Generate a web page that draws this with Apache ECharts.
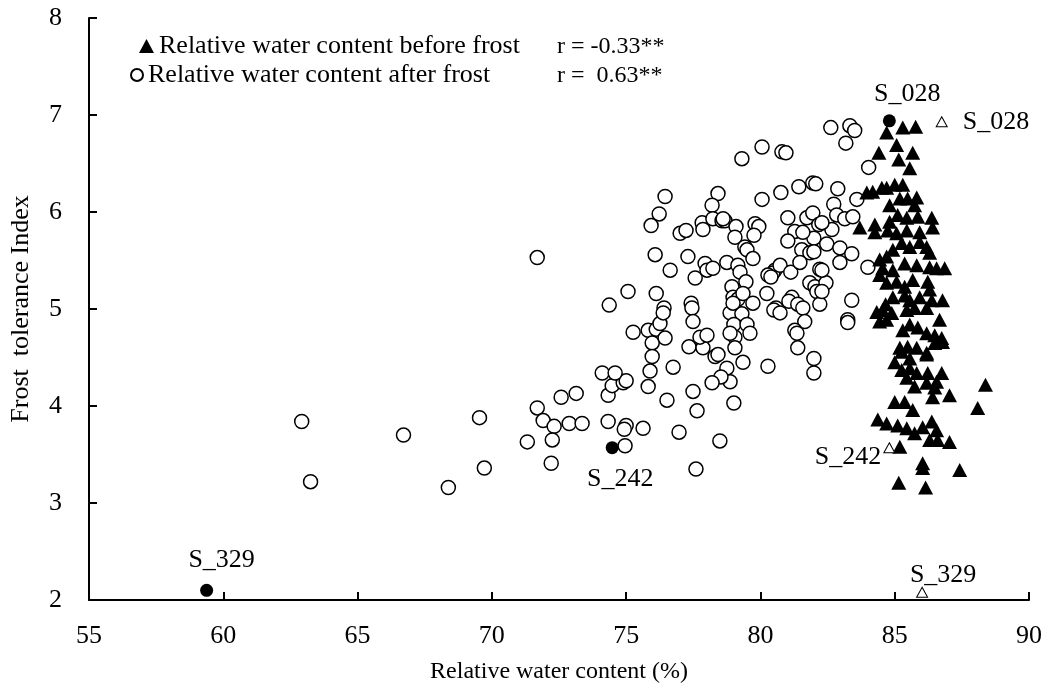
<!DOCTYPE html>
<html>
<head>
<meta charset="utf-8">
<script src="https://cdn.jsdelivr.net/npm/echarts@6/dist/echarts.min.js"></script>
<style>
  html, body { margin: 0; padding: 0; background: #fff; }
  #chart { width: 1049px; height: 693px; }
</style>
</head>
<body>
<div id="chart"></div>
<script>
// Axis settings
const xTicks = [55, 60, 65, 70, 75, 80, 85, 90];
const yTicks = [2, 3, 4, 5, 6, 7, 8];

// Relative water content before frost (%), frost tolerance index
const beforeRWC = [
  84.70, 85.30, 85.78, 85.07, 84.41, 85.67, 85.15, 85.56, 84.18, 84.52,
  84.70, 85.00, 85.30, 84.81, 85.19, 85.48, 85.82, 85.74, 83.70, 84.26,
  84.81, 85.11, 85.45, 85.86, 86.38, 86.41, 84.26, 84.74, 85.07, 85.45,
  85.93, 84.44, 84.70, 84.93, 85.26, 85.56, 85.93, 86.19, 86.30, 84.55,
  84.93, 85.37, 85.82, 86.30, 86.56, 86.86, 84.70, 85.07, 85.37, 85.67,
  86.23, 86.30, 84.93, 85.37, 85.56, 85.93, 86.38, 86.78, 84.33, 84.55,
  84.89, 85.45, 85.74, 86.19, 84.44, 84.70, 85.30, 85.56, 85.86, 86.19,
  86.49, 86.67, 86.75, 85.19, 85.48, 85.82, 86.19, 86.49, 86.78, 85.26,
  85.56, 86.19, 85.26, 85.56, 85.82, 86.23, 86.75, 86.56, 85.45, 85.74,
  86.19, 86.49, 87.04, 86.41, 88.38, 88.09, 85.00, 85.37, 85.67, 84.37,
  84.70, 85.11, 85.45, 85.74, 86.04, 86.38, 86.56, 86.30, 86.60, 87.04,
  85.19, 86.04, 86.04, 87.42, 85.15, 86.15, 83.96, 84.44, 84.66, 85.00
];
const beforeFTI = [
  6.82, 6.87, 6.88, 6.69, 6.61, 6.61, 6.54, 6.45, 6.21, 6.25,
  6.25, 6.28, 6.28, 6.07, 6.14, 6.14, 6.15, 6.07, 5.84, 5.87,
  5.90, 5.97, 5.94, 5.95, 5.94, 5.84, 5.79, 5.81, 5.78, 5.81,
  5.79, 5.51, 5.54, 5.61, 5.68, 5.64, 5.69, 5.64, 5.58, 5.42,
  5.40, 5.47, 5.45, 5.43, 5.42, 5.42, 5.27, 5.28, 5.23, 5.30,
  5.28, 5.20, 5.12, 5.14, 5.09, 5.12, 5.09, 5.09, 4.97, 4.99,
  4.96, 4.99, 5.01, 5.01, 4.87, 4.89, 4.78, 4.84, 4.81, 4.75,
  4.73, 4.89, 4.70, 4.60, 4.61, 4.60, 4.55, 4.65, 4.66, 4.56,
  4.49, 4.53, 4.37, 4.39, 4.34, 4.34, 4.34, 4.25, 4.29, 4.20,
  4.24, 4.19, 4.11, 4.09, 4.22, 3.98, 4.04, 4.04, 3.96, 3.86,
  3.82, 3.80, 3.77, 3.72, 3.78, 3.84, 3.75, 3.65, 3.65, 3.63,
  3.58, 3.41, 3.36, 3.34, 3.21, 3.16, 6.20, 5.35, 5.05, 4.45
];

// Relative water content after frost (%), frost tolerance index
const afterRWC = [
  62.92, 63.25, 66.71, 68.38, 69.54, 69.72, 71.69, 71.69, 71.91, 72.32,
  72.88, 73.36, 72.58, 73.14, 71.32, 72.25, 72.21, 74.33, 75.00, 74.93,
  75.63, 74.96, 74.33, 74.48, 74.89, 75.00, 75.82, 76.52, 74.11, 74.59,
  74.37, 75.07, 75.26, 75.82, 76.12, 76.26, 75.97, 76.45, 75.97, 75.89,
  76.75, 76.97, 77.49, 77.64, 78.49, 77.60, 79.01, 76.41, 76.38, 76.12,
  76.08, 76.64, 77.30, 77.57, 77.94, 78.01, 78.23, 78.75, 76.23, 75.93,
  76.45, 77.01, 77.23, 77.83, 77.86, 78.42, 78.20, 78.23, 78.57, 78.68,
  79.09, 79.05, 79.31, 80.06, 80.80, 80.95, 80.06, 80.76, 81.43, 81.95,
  82.06, 82.88, 82.73, 82.62, 83.33, 83.51, 83.18, 84.03, 83.59, 81.02,
  81.73, 81.95, 82.17, 82.66, 82.84, 83.14, 83.44, 79.80, 79.94, 79.76,
  78.61, 81.28, 81.02, 81.99, 82.47, 82.96, 83.40, 82.96, 81.54, 81.84,
  81.99, 79.42, 79.50, 79.72, 79.16, 79.24, 79.46, 78.94, 78.98, 79.16,
  79.35, 79.72, 80.54, 80.46, 80.73, 80.28, 80.39, 81.13, 81.47, 82.21,
  81.84, 82.03, 82.44, 82.10, 80.24, 84.00, 83.40, 81.17, 81.06, 81.39,
  82.21, 80.58, 78.87, 79.31, 79.01, 79.50, 79.61, 79.05, 78.87, 79.05,
  79.35, 78.75, 78.87, 78.53, 80.28, 80.50, 80.73, 81.58, 81.65, 81.28,
  81.36, 81.39, 81.99, 81.99, 83.25, 83.25, 82.29, 82.29, 82.29, 77.42,
  77.45, 77.49, 77.34, 77.86, 77.75, 78.01, 78.31, 78.42, 78.20, 78.98,
  81.58
];
const afterFTI = [
  3.84, 3.22, 3.70, 3.16, 3.88, 3.36, 5.53, 3.98, 3.85, 3.79,
  3.82, 3.82, 4.09, 4.13, 3.63, 3.65, 3.41, 3.84, 3.80, 3.76,
  3.77, 3.59, 4.11, 4.21, 4.24, 4.26, 4.20, 4.06, 4.34, 4.34,
  5.04, 5.18, 4.76, 4.78, 4.79, 4.85, 4.65, 4.70, 4.51, 4.36,
  4.40, 3.73, 4.15, 3.95, 3.64, 3.35, 4.03, 5.01, 4.96, 5.16,
  5.56, 5.40, 5.54, 5.32, 5.47, 5.40, 5.42, 5.48, 5.98, 5.86,
  6.16, 5.78, 5.81, 5.89, 5.82, 6.19, 6.07, 5.93, 5.91, 5.91,
  5.85, 5.74, 6.55, 6.67, 6.62, 6.61, 6.13, 6.20, 6.26, 6.30,
  6.29, 6.24, 6.08, 6.87, 6.89, 6.84, 6.71, 6.46, 6.13, 5.94,
  5.94, 5.99, 5.87, 5.82, 5.97, 5.93, 5.95, 5.88, 5.85, 5.76,
  5.93, 5.80, 5.70, 5.73, 5.67, 5.63, 5.57, 5.48, 5.61, 5.58,
  5.59, 5.64, 5.61, 5.52, 5.45, 5.38, 5.28, 5.23, 5.12, 5.10,
  5.16, 5.06, 5.40, 5.37, 5.45, 5.35, 5.33, 5.38, 5.48, 5.41,
  5.27, 5.23, 5.27, 5.18, 5.16, 5.43, 5.09, 5.12, 5.08, 5.05,
  5.05, 5.01, 4.96, 4.95, 4.84, 4.84, 4.75, 4.71, 4.75, 4.60,
  4.45, 4.39, 4.25, 4.30, 4.41, 4.99, 4.96, 5.01, 4.87, 4.78,
  4.75, 4.60, 4.49, 4.34, 4.89, 4.86, 5.89, 5.40, 5.18, 5.06,
  5.01, 4.87, 4.61, 4.60, 4.71, 4.73, 4.51, 4.53, 4.24, 5.06,
  5.79
];

// Highlighted samples
const sampleNames = ['S_028', 'S_242', 'S_329'];
const sampleAfterRWC = [84.80, 74.48, 59.38];
const sampleAfterFTI = [6.94, 3.57, 2.10];
const sampleBeforeRWC = [86.75, 84.80, 86.02];
const sampleBeforeFTI = [6.93, 3.57, 2.08];

const legendLabels = ['Relative water content before frost', 'Relative water content after frost'];
const rValues = ['r = -0.33**', 'r =  0.63**'];

const FONT = '"Liberation Serif", "Times New Roman", serif';

const zip = (a, b) => a.map((v, i) => [v, b[i]]);

const chart = echarts.init(document.getElementById('chart'), null, { renderer: 'canvas' });

// label placement for the highlighted samples
const afterLabelCfg = [
  { position: 'top', offset: [18, -2] },
  { position: 'bottom', offset: [8, 7] },
  { position: 'top', offset: [15, -6] }
];
const beforeLabelCfg = [
  { position: 'right', offset: [10, 0] },
  { position: 'left', offset: [3, 9] },
  { position: 'top', offset: [21, 6] }
];

const option = {
  backgroundColor: '#ffffff',
  animation: false,
  grid: { left: 88, right: 20, top: 18, bottom: 93, containLabel: false },
  legend: [
    {
      data: [legendLabels[0]],
      left: 134, top: 28,
      itemWidth: 15, itemHeight: 14, itemGap: 2,
      textStyle: { fontFamily: FONT, fontSize: 26, color: '#000' }
    },
    {
      data: [legendLabels[1]],
      left: 125, top: 57,
      itemWidth: 12, itemHeight: 12, itemGap: 2,
      textStyle: { fontFamily: FONT, fontSize: 26, color: '#000' }
    }
  ],
  graphic: [
    { type: 'text', left: 557, top: 35, style: { text: rValues[0], font: '24px ' + FONT, fill: '#000' } },
    { type: 'text', left: 557, top: 64, style: { text: rValues[1], font: '24px ' + FONT, fill: '#000' } }
  ],
  xAxis: {
    type: 'value', min: xTicks[0], max: xTicks[xTicks.length - 1], interval: 5,
    name: 'Relative water content (%)', nameLocation: 'middle', nameGap: 60,
    nameTextStyle: { fontFamily: FONT, fontSize: 24, color: '#000' },
    axisLine: { lineStyle: { color: '#000', width: 2 } },
    axisTick: { inside: true, length: 8, lineStyle: { color: '#000', width: 2 } },
    axisLabel: { fontFamily: FONT, fontSize: 26, color: '#000', margin: 23 },
    splitLine: { show: false }
  },
  yAxis: {
    type: 'value', min: yTicks[0], max: yTicks[yTicks.length - 1], interval: 1,
    name: 'Frost  tolerance Index', nameLocation: 'middle', nameGap: 55, nameRotate: 90,
    nameTextStyle: { fontFamily: FONT, fontSize: 26, color: '#000' },
    axisLine: { show: true, lineStyle: { color: '#000', width: 2 } },
    axisTick: { show: true, inside: true, length: 8, lineStyle: { color: '#000', width: 2 } },
    axisLabel: { fontFamily: FONT, fontSize: 26, color: '#000', margin: 27 },
    splitLine: { show: false }
  },
  series: [
    {
      name: legendLabels[1], type: 'scatter', symbol: 'circle', symbolSize: 14,
      itemStyle: { color: '#fff', borderColor: '#000', borderWidth: 1.5, opacity: 1 },
      data: zip(afterRWC, afterFTI), z: 2
    },
    {
      name: legendLabels[0], type: 'scatter', symbol: 'triangle', symbolSize: [15, 14],
      itemStyle: { color: '#000', borderColor: '#000', borderWidth: 0, opacity: 1 },
      data: zip(beforeRWC, beforeFTI), z: 3
    },
    {
      name: 'samples after frost', type: 'scatter', symbol: 'circle', symbolSize: 13,
      itemStyle: { color: '#000', opacity: 1 }, z: 4,
      data: sampleNames.map((n, i) => ({
        value: [sampleAfterRWC[i], sampleAfterFTI[i]],
        label: {
          show: true, formatter: n, position: afterLabelCfg[i].position, offset: afterLabelCfg[i].offset,
          fontFamily: FONT, fontSize: 26, color: '#000'
        }
      }))
    },
    {
      name: 'samples before frost', type: 'scatter', symbol: 'triangle', symbolSize: [11, 10],
      itemStyle: { color: '#fff', borderColor: '#000', borderWidth: 1, opacity: 1 }, z: 4,
      data: sampleNames.map((n, i) => ({
        value: [sampleBeforeRWC[i], sampleBeforeFTI[i]],
        label: {
          show: true, formatter: n, position: beforeLabelCfg[i].position, offset: beforeLabelCfg[i].offset,
          fontFamily: FONT, fontSize: 26, color: '#000'
        }
      }))
    }
  ]
};

chart.setOption(option);
</script>
</body>
</html>
